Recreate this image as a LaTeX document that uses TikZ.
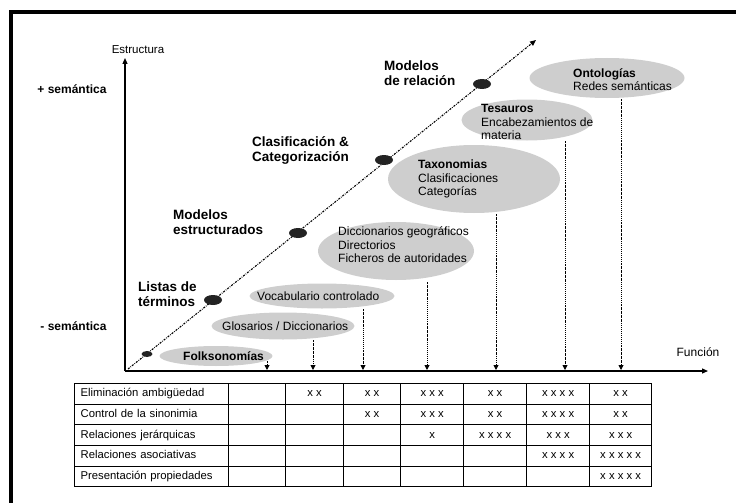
\documentclass[tikz,border=0pt]{standalone}
\usepackage{fontspec}
\setmainfont{Liberation Sans}
\usetikzlibrary{arrows.meta,shapes.geometric,matrix}
\definecolor{cloudgray}{RGB}{206,206,206}
\definecolor{dotgray}{RGB}{35,35,35}
\tikzset{
  term/.style={ellipse,fill=cloudgray,inner sep=0pt},
  termtext/.style={anchor=west,align=left,inner sep=0pt,
                   font=\fontsize{12}{13.5}\selectfont},
  level/.style={anchor=west,align=left,inner sep=0pt,
                font=\fontsize{13.5}{15}\selectfont\bfseries},
  mark dot/.style={ellipse,fill=dotgray,inner sep=0pt,
                   minimum width=18pt,minimum height=10pt},
  axis/.style={-{Triangle[length=6pt,width=5pt]},line width=1.2pt},
  trend/.style={-{Triangle[length=6pt,width=5pt]},line width=1.1pt,
                dash pattern=on 2pt off 1.2pt on 0.7pt off 1.2pt},
  fun/.style={-{Triangle[length=5pt,width=5pt]},line width=0.9pt,
              dash pattern=on 1.5pt off 1pt on 0.6pt off 1pt},
}

\begin{document}
\begin{tikzpicture}[x=1pt,y=-1pt,
      cell/.style={draw,line width=0.9pt,inner sep=0pt,minimum height=20.6pt,
                   text height=8.3pt,text depth=2.4pt,
                   font=\fontsize{11.3}{13}\selectfont},
    ]
    \useasboundingbox (0,0) rectangle (736,503);

    % frame
    \draw[line width=4pt] (10.5,503) -- (10.5,11.8) -- (736,11.8);

    % axes
    \coordinate (orig)  at (125,371);
    \coordinate (ytip)  at (125,58);
    \coordinate (xtip)  at (708,371);
    \draw[axis] (orig) -- (ytip);
    \draw[axis] (orig) -- (xtip);
    \node (estructura) at (138,50) {\fontsize{11.5}{13}\selectfont Estructura};
    \node (funcion)    at (698,352) {\fontsize{12}{13}\selectfont Función};
    \node[anchor=east,font=\fontsize{12}{13}\selectfont\bfseries] (mas)   at (110,89)  {+ semántica};
    \node[anchor=east,font=\fontsize{12}{13}\selectfont\bfseries] (menos) at (110,326) {- semántica};

    % diagonal
    \coordinate (dstart) at (128,369);
    \coordinate (dtip)   at (536,40);
    \draw[trend] (dstart) -- (dtip);

    \node[mark dot,minimum width=11pt,minimum height=6pt] (d0) at (147,354) {};
    \node[mark dot] (d1) at (213,300) {};
    \node[mark dot] (d2) at (298,233) {};
    \node[mark dot] (d3) at (384,160) {};
    \node[mark dot] (d4) at (482,84)  {};

    \node[level] (listas)  at (138,294) {Listas de\\términos};
    \node[level] (modest)  at (173,222) {Modelos\\estructurados};
    \node[level] (clasif)  at (252,150.5) {Clasificación \&\\Categorización};
    \node[level] (modrel)  at (384,73)  {Modelos\\de relación};

    % ellipses
    \node[term,minimum width=113pt,minimum height=20pt] (folk) at (216,356) {};
    \node[term,minimum width=143pt,minimum height=27pt] (glos) at (283,326) {};
    \node[term,minimum width=145pt,minimum height=25pt] (voca) at (322,296) {};
    \node[term,minimum width=156pt,minimum height=58pt] (dicc) at (396,251) {};
    \node[term,minimum width=172pt,minimum height=68pt] (taxo) at (474,179) {};
    \node[term,minimum width=131pt,minimum height=41pt] (tesa) at (527,120) {};
    \node[term,minimum width=155pt,minimum height=40pt] (onto) at (607,78)  {};

    \node[termtext] (folktxt) at (183,356) {\textbf{Folksonomías}};
    \node[termtext] (glostxt) at (222,326) {Glosarios / Diccionarios};
    \node[termtext] (vocatxt) at (257,296) {Vocabulario controlado};
    \node[termtext] (dicctxt) at (338,245) {Diccionarios geográficos\\Directorios\\Ficheros de autoridades};
    \node[termtext] (taxotxt) at (418,179) {\textbf{Taxonomias}\\Clasificaciones\\Categorías};
    \node[termtext] (tesatxt) at (481,122) {\textbf{Tesauros}\\Encabezamientos de\\materia};
    \node[termtext] (ontotxt) at (573,79.5) {\textbf{Ontologías}\\Redes semánticas};

    % function arrows
    \foreach \x/\y [count=\i] in {267/361,313/340,363/309,427/282,496/214,565/141,621/99}{
      \coordinate (ftop\i) at (\x,\y);
      \coordinate (fbot\i) at (\x,370);
      \draw[fun] (ftop\i) -- (fbot\i);
    }

    % table
    \matrix (tab) [matrix of nodes,nodes in empty cells,anchor=north west,inner sep=0pt,
                   column sep=-0.9pt,row sep=-0.9pt,nodes={cell},
                   column 1/.style={nodes={text width=142pt,inner xsep=6pt,align=left}},
                   column 2/.style={nodes={minimum width=57pt}},
                   column 3/.style={nodes={minimum width=58pt}},
                   column 4/.style={nodes={minimum width=57pt}},
                   column 5/.style={nodes={minimum width=63pt}},
                   column 6/.style={nodes={minimum width=63pt}},
                   column 7/.style={nodes={minimum width=63pt}},
                   column 8/.style={nodes={minimum width=62pt}}]
      at (74,383) {
      Eliminación ambigüedad   &  & x x & x x & x x x & x x     & x x x x & x x \\
      Control de la sinonimia  &  &     & x x & x x x & x x     & x x x x & x x \\
      Relaciones jerárquicas   &  &     &     & x     & x x x x & x x x   & x x x \\
      Relaciones asociativas   &  &     &     &       &         & x x x x & x x x x x \\
      Presentación propiedades &  &     &     &       &         &         & x x x x x \\
    };

  \end{tikzpicture}
\end{document}
